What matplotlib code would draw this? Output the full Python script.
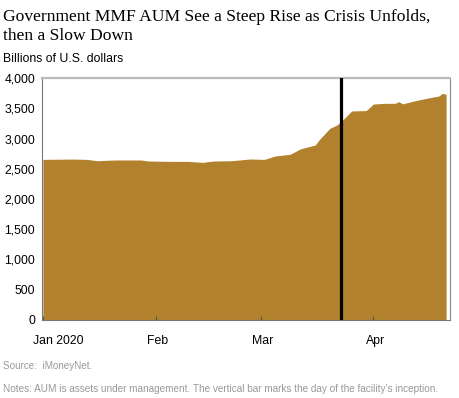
import matplotlib
matplotlib.use("Agg")
import matplotlib.pyplot as plt
import matplotlib.transforms as mtransforms
import numpy as np

# data (billions of U.S. dollars)
dates = [
    "2020-01-01", "2020-01-09", "2020-01-13", "2020-01-16", "2020-01-21",
    "2020-01-28", "2020-01-30", "2020-02-05", "2020-02-10", "2020-02-14",
    "2020-02-17", "2020-02-22", "2020-02-27", "2020-03-02", "2020-03-05",
    "2020-03-09", "2020-03-12", "2020-03-16", "2020-03-17", "2020-03-20",
    "2020-03-22", "2020-03-24", "2020-03-26", "2020-03-30", "2020-04-01",
    "2020-04-04", "2020-04-07", "2020-04-08", "2020-04-09", "2020-04-13",
    "2020-04-17", "2020-04-19", "2020-04-20", "2020-04-21",
]
aum = [
    2655, 2660, 2655, 2633, 2645,
    2645, 2628, 2622, 2622, 2605,
    2628, 2633, 2661, 2655, 2711,
    2738, 2830, 2893, 2975, 3168,
    3225, 3333, 3455, 3462, 3570,
    3581, 3582, 3609, 3572, 3631,
    3681, 3702, 3747, 3730,
]
facility_date = "2020-03-23"

month_ticks = ["2020-01-01", "2020-02-01", "2020-03-01", "2020-04-01"]
month_labels = ["Jan 2020", "Feb", "Mar", "Apr"]
y_ticks = [0, 500, 1000, 1500, 2000, 2500, 3000, 3500, 4000]

fill_color = "#B1812E"
sans = ["Liberation Sans", "DejaVu Sans"]

x = np.array(dates, dtype="datetime64[D]")

fig = plt.figure(figsize=(4.6, 3.98), dpi=100)
ax = fig.add_axes([0.0913, 0.196, 0.887, 0.608])

ax.fill_between(x, aum, 0, color=fill_color, linewidth=0)
ax.axvline(np.datetime64(facility_date), color="black", linewidth=2.3, zorder=3)

ax.set_xlim(np.datetime64("2020-01-01") - np.timedelta64(6, "h"),
            np.datetime64("2020-04-22") + np.timedelta64(2, "h"))
ax.set_ylim(0, 4000)

ax.set_yticks(y_ticks)
ax.set_yticklabels([f"{v:,}" for v in y_ticks], fontfamily=sans, fontsize=8.8)
ax.tick_params(axis="y", length=0, pad=5)

ax.set_xticks(np.array(month_ticks, dtype="datetime64[D]"))
ax.set_xticklabels(month_labels, fontfamily=sans, fontsize=8.8)
ax.tick_params(axis="x", direction="in", length=3, width=0.8,
               color="#555555", pad=11)

# first month label sits a bit to the right of its tick
for i, lab in enumerate(ax.get_xticklabels()):
    dx = 0.15 if i == 0 else 0.02
    lab.set_transform(lab.get_transform() +
                      mtransforms.ScaledTranslation(dx, 0, fig.dpi_scale_trans))

ax.spines["top"].set_color("#BBBBBB")
ax.spines["top"].set_linewidth(1.6)
ax.spines["right"].set_color("#888888")
ax.spines["right"].set_linewidth(0.8)
ax.spines["left"].set_color("#777777")
ax.spines["left"].set_linewidth(0.8)
ax.spines["bottom"].set_color("#777777")
ax.spines["bottom"].set_linewidth(0.8)

fig.text(0.006, 0.933, "Government MMF AUM See a Steep Rise as Crisis Unfolds,\nthen a Slow Down",
         fontfamily=["Liberation Serif", "DejaVu Serif"], fontsize=12.6,
         va="center", ha="left", linespacing=1.25)
fig.text(0.006, 0.852, "Billions of U.S. dollars", fontfamily=sans,
         fontsize=8.8, va="center", ha="left")
fig.text(0.006, 0.080, "Source:  iMoneyNet.", fontfamily=sans,
         fontsize=7.1, color="#999999", va="center", ha="left")
fig.text(0.006, 0.022,
         "Notes: AUM is assets under management. The vertical bar marks the day of the facility\u2019s inception.",
         fontfamily=sans, fontsize=7.2, color="#999999", va="center", ha="left")

fig.savefig("out.png", dpi=100)
